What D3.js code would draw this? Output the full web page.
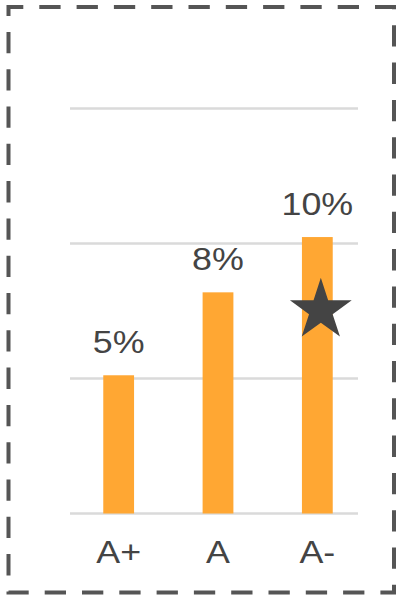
<!DOCTYPE html>
<html>
<head>
<meta charset="utf-8">
<script src="https://cdn.jsdelivr.net/npm/d3@7"></script>
<style>
  html, body { margin: 0; padding: 0; background: #fff; }
  svg { display: block; }
  text { font-family: "Liberation Sans", Arial, Helvetica, sans-serif; fill: #444; }
</style>
</head>
<body>
<svg id="chart" width="398" height="597"></svg>
<script>
// Share of each grade
const categories = ["A+", "A", "A-"];
const values = [5, 8, 10];
const valueLabels = ["5%", "8%", "10%"];

// Horizontal guide lines (value units) and the top of the value axis
const gridTicks = [0, 4.88, 9.77, 14.65];
const yMax = 14.65;

// Highlight marker placed on one bar
const markerCategory = "A-";
const markerValue = 7.35;

const svg = d3.select("#chart");

const x = d3.scaleBand()
  .domain(categories)
  .range([69, 367])
  .paddingInner(0.69)
  .paddingOuter(0.345);

const y = d3.scaleLinear()
  .domain([0, yMax])
  .range([513.5, 108.5]);

// Dashed frame around the whole chart, drawn clockwise from the top-left corner
const fx0 = 8.5, fy0 = 7, fx1 = 394, fy1 = 592.5;
svg.append("path")
  .attr("d", `M${fx0},${fy0}H${fx1}V${fy1}H${fx0}Z`)
  .attr("fill", "none")
  .attr("stroke", "#555")
  .attr("stroke-width", 4)
  .attr("stroke-dasharray", "21.3,16")
  .attr("stroke-dashoffset", 6.5);

// Grid lines
svg.append("g")
  .selectAll("line")
  .data(gridTicks)
  .join("line")
  .attr("x1", 70)
  .attr("x2", 358)
  .attr("y1", d => y(d))
  .attr("y2", d => y(d))
  .attr("stroke", "#dadada")
  .attr("stroke-width", 2.5);

// Bars
svg.append("g")
  .selectAll("rect")
  .data(values)
  .join("rect")
  .attr("x", (d, i) => x(categories[i]))
  .attr("width", x.bandwidth())
  .attr("y", d => y(d))
  .attr("height", d => y(0) - y(d))
  .attr("fill", "#ffa733");

// Value labels above bars
svg.append("g")
  .selectAll("text")
  .data(values)
  .join("text")
  .attr("transform", (d, i) => `translate(${x(categories[i]) + x.bandwidth() / 2},${y(d) - 22.5}) scale(1.12,1)`)
  .attr("text-anchor", "middle")
  .attr("font-size", 32)
  .text((d, i) => valueLabels[i]);

// Category labels under the axis
svg.append("g")
  .selectAll("text")
  .data(categories)
  .join("text")
  .attr("transform", d => `translate(${x(d) + x.bandwidth() / 2},563) scale(1.12,1)`)
  .attr("text-anchor", "middle")
  .attr("font-size", 32)
  .text(d => d);

// Star marker
svg.append("path")
  .attr("d", d3.symbol(d3.symbolStar, 1186)())
  .attr("transform", `translate(${x(markerCategory) + x.bandwidth() / 2 + 3.5},${y(markerValue)})`)
  .attr("fill", "#444");
</script>
</body>
</html>
